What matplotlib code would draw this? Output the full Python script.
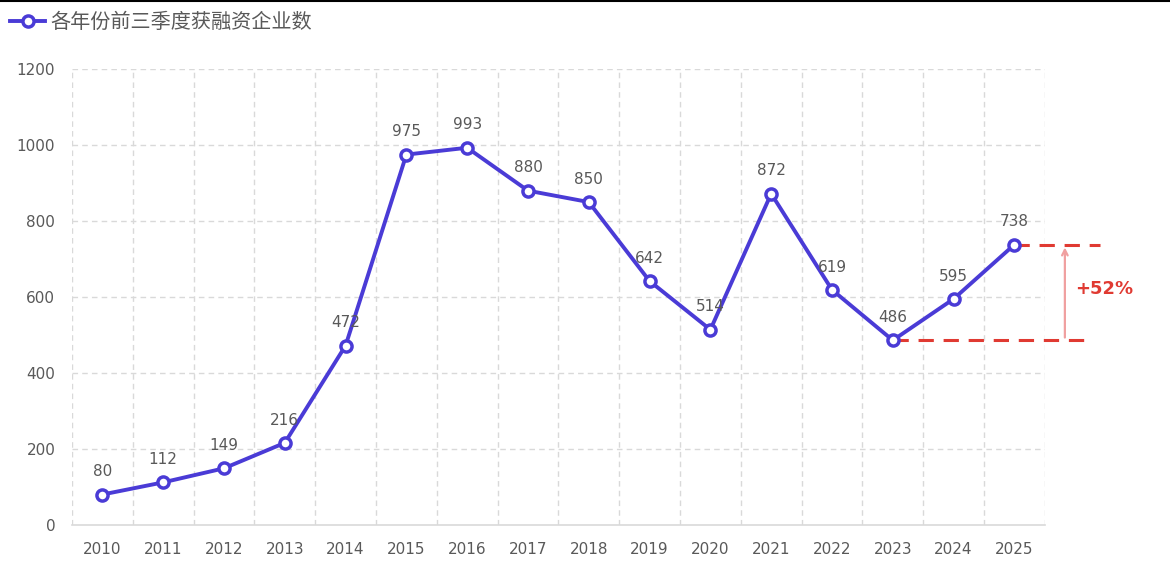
import matplotlib.pyplot as plt

plt.rcParams["font.family"] = ["DejaVu Sans", "Noto Sans CJK SC"]

years = ["2010", "2011", "2012", "2013", "2014", "2015", "2016", "2017",
         "2018", "2019", "2020", "2021", "2022", "2023", "2024", "2025"]
counts = [80, 112, 149, 216, 472, 975, 993, 880, 850, 642, 514, 872, 619, 486, 595, 738]
series_name = "各年份前三季度获融资企业数"
growth_label = "+52%"

LINE_COLOR = "#4a3bd6"
TEXT_COLOR = "#595959"
RED = "#e03a32"


def plot_chart():
    fig = plt.figure(figsize=(11.7, 5.62), dpi=100)
    ax = fig.add_axes([0.0615, 0.066, 0.8315, 0.811])

    x = list(range(len(years)))
    ax.plot(x, counts, color=LINE_COLOR, linewidth=2.8, marker="o",
            markersize=8, markerfacecolor="white", markeredgecolor=LINE_COLOR,
            markeredgewidth=2.5, label=series_name, zorder=3)

    for xi, v in zip(x, counts):
        ax.annotate(str(v), (xi, v), xytext=(0, 11), textcoords="offset points",
                    ha="center", va="bottom", fontsize=11, color=TEXT_COLOR)

    ax.set_xlim(-0.5, len(years) - 0.5)
    ax.set_ylim(0, 1200)
    ax.set_yticks(range(0, 1201, 200))
    ax.set_xticks(x)
    ax.set_xticklabels(years)
    ax.tick_params(axis="both", length=0, labelsize=11, labelcolor=TEXT_COLOR)
    ax.tick_params(axis="x", pad=12)
    ax.tick_params(axis="y", pad=12)

    # grid: horizontal at ticks, vertical between categories
    for y in range(200, 1201, 200):
        ax.axhline(y, color="#d9d9d9", linestyle=(0, (4, 3)), linewidth=1, zorder=0)
    for b in [i - 0.5 for i in range(len(years) + 1)]:
        ax.axvline(b, color="#d9d9d9", linestyle=(0, (4, 3)), linewidth=1, zorder=0)

    for side in ["top", "right", "left"]:
        ax.spines[side].set_visible(False)
    ax.spines["bottom"].set_color("#d9d9d9")
    ax.spines["bottom"].set_linewidth(1.2)

    # growth annotation 2023 -> 2025
    i0, i1 = years.index("2023"), years.index("2025")
    ax.plot([i0, 16.25], [counts[i0], counts[i0]], color=RED, linestyle=(0, (5, 3.2)),
            linewidth=2.2, clip_on=False, zorder=2)
    ax.plot([i1, 16.4], [counts[i1], counts[i1]], color=RED, linestyle=(0, (5, 3.2)),
            linewidth=2.2, clip_on=False, zorder=2)
    ax.annotate("", xy=(15.83, counts[i1]), xytext=(15.83, counts[i0]),
                arrowprops=dict(arrowstyle="->", color="#f0a0a0", lw=1.6),
                annotation_clip=False)
    ax.text(16.0, (counts[i0] + counts[i1]) / 2 + 10, growth_label, color=RED,
            fontsize=13, fontweight="bold", va="center", ha="left")

    leg = ax.legend(loc="center left", bbox_to_anchor=(-0.0637, 1.103), frameon=False,
                    fontsize=14.5, handlelength=1.75, handletextpad=0.25,
                    borderaxespad=0, borderpad=0,
                    prop={"family": ["Noto Sans CJK SC", "DejaVu Sans"], "size": 14.5})
    for t in leg.get_texts():
        t.set_color(TEXT_COLOR)

    fig.add_artist(plt.Line2D([0, 1], [0.998, 0.998], color="black", linewidth=1.5))

    plt.savefig("out.png", dpi=100)
    plt.close()


if __name__ == "__main__":
    plot_chart()
